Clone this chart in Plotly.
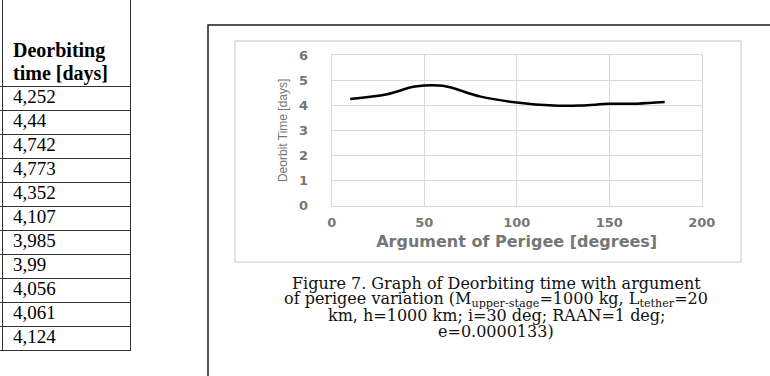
import plotly.graph_objects as go

W, H = 770, 376

# ---------------- data ----------------
perigee_deg = [10, 30, 45, 60, 80, 100, 120, 135, 150, 165, 180]
deorbit_days = [4.252, 4.44, 4.742, 4.773, 4.352, 4.107, 3.985, 3.99, 4.056, 4.061, 4.124]
table_header = ["Deorbiting", "time [days]"]
x_ticks = [0, 50, 100, 150, 200]
y_ticks = [0, 1, 2, 3, 4, 5, 6]
x_title = "Argument of Perigee [degrees]"
y_title = "Deorbit Time [days]"
caption_lines = [
    "Figure 7. Graph of Deorbiting time with argument",
    "of perigee variation (M<sub>upper-stage</sub>=1000 kg, L<sub>tether</sub>=20",
    "km, h=1000 km; i=30 deg; RAAN=1 deg;",
    "e=0.0000133)",
]


# ---------------- helpers ----------------
def px_x(px):
    return px / W


def px_y(py):
    return 1 - py / H


def fmt(v):
    s = f"{v:.3f}".rstrip("0").rstrip(".")
    return s.replace(".", ",")


n_rows = len(deorbit_days)
row_px = 24
header_px = 86
table_w = 129.8

SERIF = "Liberation Serif, Times New Roman, serif"
CAP_FONT = "DejaVu Serif, Liberation Serif, serif"
SANS = "DejaVu Sans, Verdana, sans-serif"
GRAY = "#767676"
GRID = "#d9d9d9"
TLINE = "#333333"

fig = go.Figure()

# ---------------- main chart ----------------
fig.add_trace(go.Scatter(
    x=perigee_deg, y=deorbit_days, mode="lines",
    line=dict(color="black", width=2.5, shape="spline", smoothing=1.0),
    xaxis="x", yaxis="y", hoverinfo="x+y",
))

# ---------------- table (drawn on its own axes) ----------------
fig.add_trace(go.Scatter(
    x=[13] * n_rows, y=[i + 0.5 for i in range(n_rows)],
    text=[fmt(v) for v in deorbit_days], mode="text",
    textposition="middle right",
    textfont=dict(family=SERIF, size=19, color="black"),
    xaxis="x2", yaxis="y2", cliponaxis=False, hoverinfo="skip",
))
header_y = [(52 - header_px) / row_px, (75 - header_px) / row_px]
fig.add_trace(go.Scatter(
    x=[13] * len(table_header), y=header_y,
    text=[f"<b>{t}</b>" for t in table_header], mode="text",
    textposition="middle right",
    textfont=dict(family=SERIF, size=20, color="black"),
    xaxis="x2", yaxis="y2", cliponaxis=False, hoverinfo="skip",
))

fig.update_layout(
    width=W, height=H,
    margin=dict(l=0, r=0, t=0, b=0, pad=0, autoexpand=False),
    paper_bgcolor="white", plot_bgcolor="white",
    showlegend=False,
    xaxis=dict(
        domain=[px_x(331.7), px_x(701.7)], range=[0, 200],
        tickmode="array", tickvals=x_ticks,
        showgrid=True, gridcolor=GRID, gridwidth=1,
        zeroline=False, showline=True, mirror=True, linecolor=GRID, linewidth=1,
        ticks="", ticklabelstandoff=5,
        tickfont=dict(family=SANS, size=13, color=GRAY, weight="bold"),
        title=dict(text=x_title, standoff=6,
                   font=dict(family=SANS, size=16, color=GRAY, weight="bold")),
        anchor="y", fixedrange=True, automargin=False,
    ),
    yaxis=dict(
        domain=[px_y(205.7), px_y(55)], range=[0, 6],
        tickmode="array", tickvals=y_ticks,
        showgrid=True, gridcolor=GRID, gridwidth=1,
        zeroline=False, showline=True, mirror=True, linecolor=GRID, linewidth=1,
        ticks="", ticklabelstandoff=20,
        tickfont=dict(family=SANS, size=13, color=GRAY, weight="bold"),
        title=dict(text=y_title, standoff=8,
                   font=dict(family="Liberation Sans, Arial, sans-serif", size=12, color=GRAY)),
        anchor="x", fixedrange=True, automargin=False,
    ),
    xaxis2=dict(
        domain=[0, px_x(table_w)], range=[0, table_w],
        tickmode="array", tickvals=[2.7],
        showgrid=True, gridcolor=TLINE, gridwidth=1,
        showticklabels=False, zeroline=False,
        showline=True, linecolor=TLINE, linewidth=1,
        anchor="y2", fixedrange=True, automargin=False,
    ),
    yaxis2=dict(
        domain=[px_y(header_px + n_rows * row_px), 1],
        range=[n_rows, -header_px / row_px],
        tickmode="array", tickvals=list(range(n_rows)),
        showgrid=True, gridcolor=TLINE, gridwidth=1,
        showticklabels=False, zeroline=False,
        showline=True, mirror=True, linecolor=TLINE, linewidth=1,
        anchor="x2", fixedrange=True, automargin=False,
    ),
    shapes=[
        dict(type="rect", xref="paper", yref="paper",
             x0=px_x(208), x1=px_x(800), y0=px_y(420), y1=px_y(25),
             line=dict(color="#1a1a1a", width=1.5)),
        dict(type="rect", xref="paper", yref="paper",
             x0=px_x(235), x1=px_x(741), y0=px_y(262), y1=px_y(41),
             line=dict(color=GRID, width=1.5)),
    ],
)

cap_y = [283, 299, 315, 331]
for line, yy in zip(caption_lines, cap_y):
    fig.add_annotation(
        text=line, xref="paper", yref="paper",
        x=px_x(496), y=px_y(yy), xanchor="center", yanchor="middle",
        showarrow=False,
        font=dict(family=CAP_FONT, size=16, color="#111111"),
    )

fig.write_html("out.html")
